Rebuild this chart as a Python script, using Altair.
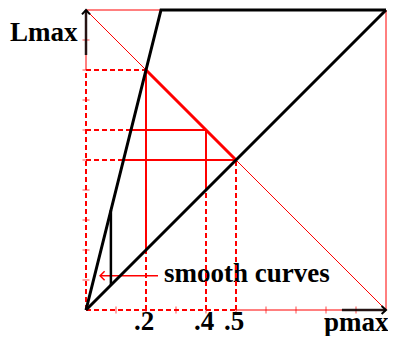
import altair as alt
import pandas as pd

RED = "#ff0000"
BLACK = "#000000"
FONT = "Liberation Serif"
FS = 27

# ---- axis ticks and labels (unit square, 0..1) ----
tick_values = [0.1, 0.2, 0.3, 0.4, 0.5, 0.6, 0.7, 0.8, 0.9]
label_values = [0.2, 0.4, 0.5]
label_texts = [".2", ".4", ".5"]

# ---- black curves ----
diag_x = [0.0, 1.0]
diag_y = [0.0, 1.0]
steep_x = [0.0, 0.25, 1.0]
steep_y = [0.0, 1.0, 1.0]
gap_x = [0.083]
gap_y = [0.083]
gap_y2 = [0.333]

# ---- thin red frame, anti-diagonal, solid axis parts ----
frame_x = [0.0, 1.0, 0.0, 0.5, 0.0]
frame_y = [1.0, 0.0, 1.0, 0.0, 0.8]
frame_x2 = [1.0, 1.0, 1.0, 1.0, 0.0]
frame_y2 = [1.0, 1.0, 0.0, 0.0, 1.0]

# ---- dashed red guides ----
dash_x = [0.0, 0.0, 0.0, 0.0, 0.0, 0.2, 0.4, 0.5]
dash_y = [0.0, 0.0, 0.8, 0.6, 0.5, 0.0, 0.0, 0.0]
dash_x2 = [0.0, 0.5, 0.2, 0.15, 0.125, 0.2, 0.4, 0.5]
dash_y2 = [0.8, 0.0, 0.8, 0.6, 0.5, 0.2, 0.4, 0.5]

# ---- solid red guides ----
solid_x = [0.15, 0.125, 0.2, 0.4]
solid_y = [0.6, 0.5, 0.2, 0.4]
solid_x2 = [0.4, 0.5, 0.2, 0.4]
solid_y2 = [0.6, 0.5, 0.8, 0.6]

# ---- thick red segment on the anti-diagonal ----
thick_x = [0.2]
thick_y = [0.8]
thick_x2 = [0.5]
thick_y2 = [0.5]

# ---- black axis arrows ----
arrow_x = [0.0, 0.853]
arrow_y = [0.85, 0.0]
arrow_x2 = [0.0, 1.0]
arrow_y2 = [1.0, 0.0]

# ---- annotation ----
note_text = ["smooth curves"]
note_x = [0.26]
note_y = [0.093]
pointer_x = [0.047]
pointer_y = [0.114]
pointer_x2 = [0.24]

scale = alt.Scale(domain=[0, 1], nice=False, zero=False)
x_axis = alt.Axis(
    labels=False, ticks=False, domain=False, grid=False,
    title="pmax", titleX=302, titleY=20, titleAlign="right",
    titleBaseline="alphabetic", titleFont=FONT, titleFontSize=FS,
    titleFontWeight="bold", titleColor=BLACK,
)
y_axis = alt.Axis(
    labels=False, ticks=False, domain=False, grid=False,
    title="Lmax", titleAngle=0, titleX=-9, titleY=30, titleAlign="right",
    titleBaseline="alphabetic", titleFont=FONT, titleFontSize=FS,
    titleFontWeight="bold", titleColor=BLACK,
)
X = alt.X("x:Q", scale=scale, axis=x_axis)
Y = alt.Y("y:Q", scale=scale, axis=y_axis)


def seg(xs, ys, x2s, y2s):
    return pd.DataFrame({"x": xs, "y": ys, "x2": x2s, "y2": y2s})


frame = alt.Chart(seg(frame_x, frame_y, frame_x2, frame_y2)).mark_rule(
    color=RED, strokeWidth=1
).encode(x=X, y=Y, x2="x2:Q", y2="y2:Q")

note = alt.Chart(pd.DataFrame({"x": note_x, "y": note_y, "t": note_text})).mark_text(
    font=FONT, fontSize=FS, fontWeight="bold", align="left",
    baseline="alphabetic", color=BLACK
).encode(x=X, y=Y, text="t:N")

dashed = alt.Chart(seg(dash_x, dash_y, dash_x2, dash_y2)).mark_rule(
    color=RED, strokeWidth=2, strokeDash=[5, 3]
).encode(x=X, y=Y, x2="x2:Q", y2="y2:Q")

solid = alt.Chart(seg(solid_x, solid_y, solid_x2, solid_y2)).mark_rule(
    color=RED, strokeWidth=2
).encode(x=X, y=Y, x2="x2:Q", y2="y2:Q")

thick = alt.Chart(seg(thick_x, thick_y, thick_x2, thick_y2)).mark_rule(
    color=RED, strokeWidth=3
).encode(x=X, y=Y, x2="x2:Q", y2="y2:Q")

ticks_df = pd.DataFrame({"x": tick_values, "y": [0.0] * len(tick_values)})
xticks = alt.Chart(ticks_df).mark_tick(
    orient="vertical", color=RED, size=7, thickness=1
).encode(x=X, y=Y)
yticks_df = pd.DataFrame({"x": [0.0] * len(tick_values), "y": tick_values})
yticks = alt.Chart(yticks_df).mark_tick(
    orient="horizontal", color=RED, size=7, thickness=1
).encode(x=X, y=Y)

pointer = alt.Chart(
    pd.DataFrame({"x": pointer_x, "y": pointer_y, "x2": pointer_x2})
).mark_rule(color=RED, strokeWidth=1.5).encode(x=X, y=Y, x2="x2:Q")
pointer_head = alt.Chart(pd.DataFrame({"x": pointer_x, "y": pointer_y})).mark_point(
    shape="M1,-1L0,0L1,1", size=81, filled=False, color=RED, strokeWidth=1.5, opacity=1
).encode(x=X, y=Y)

curves_df = pd.concat([
    pd.DataFrame({"x": diag_x, "y": diag_y, "s": "diag", "o": range(len(diag_x))}),
    pd.DataFrame({"x": steep_x, "y": steep_y, "s": "steep", "o": range(len(steep_x))}),
])
curves = alt.Chart(curves_df).mark_line(
    color=BLACK, strokeWidth=3, strokeJoin="miter"
).encode(x=X, y=Y, detail="s:N", order="o:Q")

gap = alt.Chart(seg(gap_x, gap_y, gap_x, gap_y2)).mark_rule(
    color=BLACK, strokeWidth=2.5
).encode(x=X, y=Y, y2="y2:Q")

arrows = alt.Chart(seg(arrow_x, arrow_y, arrow_x2, arrow_y2)).mark_rule(
    color=BLACK, strokeWidth=2.5, opacity=0.85
).encode(x=X, y=Y, x2="x2:Q", y2="y2:Q")
up_head = alt.Chart(pd.DataFrame({"x": [0.0], "y": [1.0]})).mark_point(
    shape="M-1,1.1L0,0L1,1.1", size=64, filled=False, color=BLACK, strokeWidth=2, opacity=1
).encode(x=X, y=Y)
right_head = alt.Chart(pd.DataFrame({"x": [1.0], "y": [0.0]})).mark_point(
    shape="M-1.1,-1L0,0L-1.1,1", size=64, filled=False, color=BLACK, strokeWidth=2, opacity=1
).encode(x=X, y=Y)

labels = alt.Chart(pd.DataFrame({"x": label_values, "y": [0.0] * 3, "t": label_texts})).mark_text(
    font=FONT, fontSize=FS, fontWeight="bold", align="center",
    baseline="alphabetic", dy=20, dx=-2, color=BLACK
).encode(x=X, y=Y, text="t:N")

chart = alt.layer(
    frame, note, dashed, solid, thick, xticks, yticks, pointer, pointer_head,
    curves, gap, arrows, up_head, right_head, labels
).properties(
    width=300, height=300,
    autosize=alt.AutoSizeParams(type="none"),
    padding={"left": 78, "top": 2, "right": 2, "bottom": 26},
).configure_view(stroke=None)

chart.save("out.html", embed_options={"renderer": "svg", "actions": False})
